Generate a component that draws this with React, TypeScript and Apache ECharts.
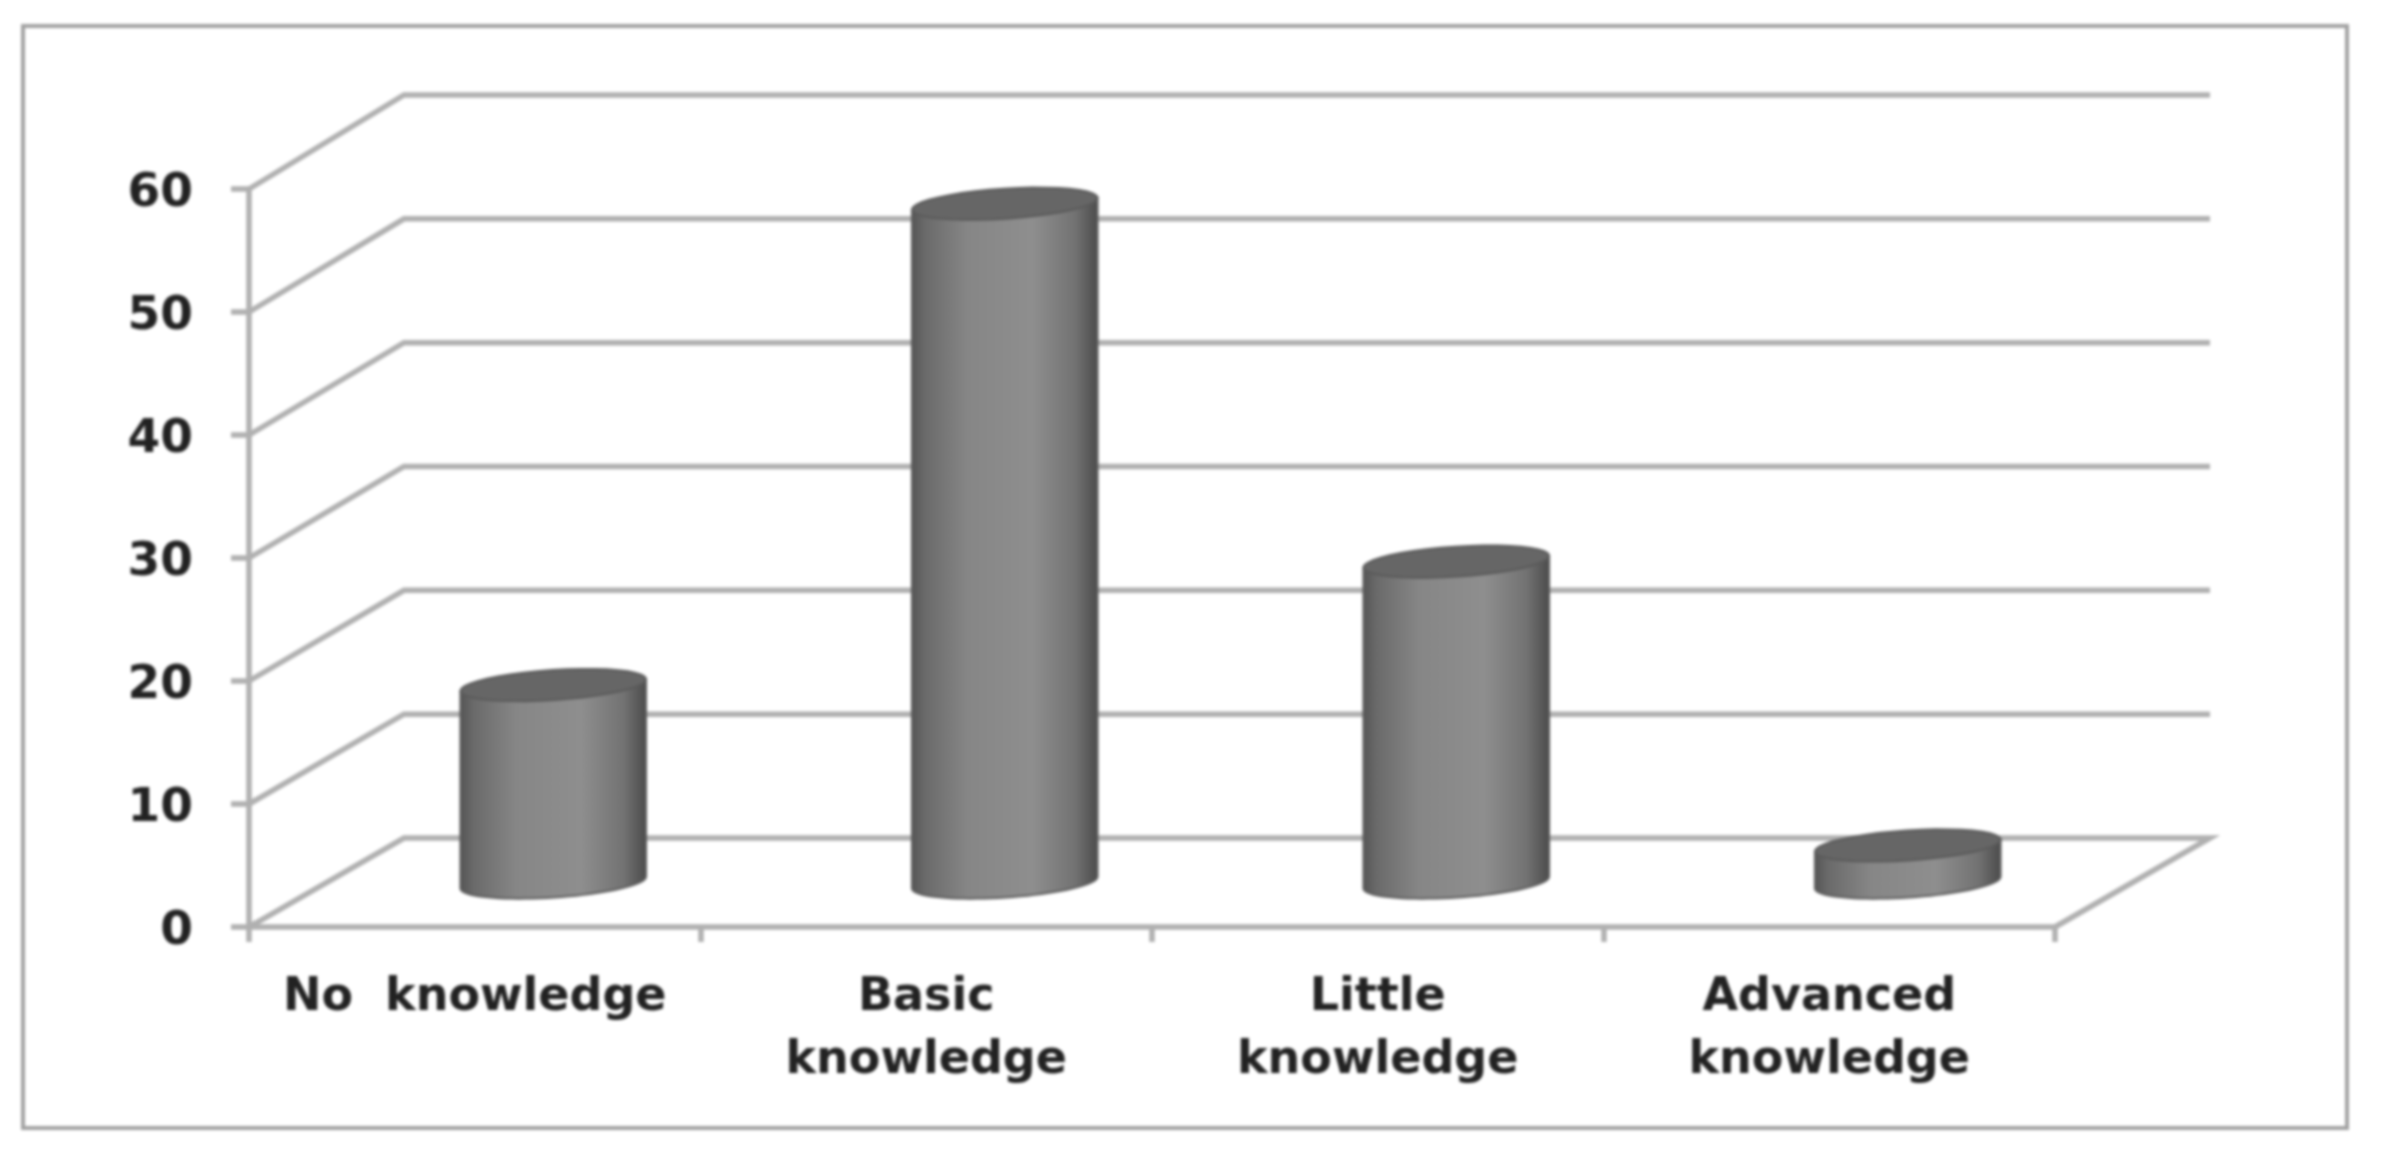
import React, { useEffect, useRef } from "react";
import * as echarts from "echarts";

const categories = ["No  knowledge", "Basic\nknowledge", "Little\nknowledge", "Advanced\nknowledge"];
const values = [16, 55, 26, 3];
const yTicks = [0, 10, 20, 30, 40, 50, 60];

const LINE = "#b0b0b0";
const TEXT = "#222222";
const FONT = "DejaVu Sans";
const LINE_W = 5.5;

// Perspective of the fake 3D box: depth vector from the front plane to the back wall
const DEPTH_X = 155;
const depthY = (v: number) => -89 - (v / 60) * 5;

function renderWall(params: any, api: any) {
  const v = api.value(1);
  const p = api.coord([0, v]);
  const band = api.size([1, 0])[0];
  const left = p[0] - band / 2;
  const right = left + band * categories.length;
  const y = p[1];
  const by = y + depthY(v);
  const pts: number[][] = [
    [left, y],
    [left + DEPTH_X, by],
    [right + DEPTH_X, by],
  ];
  if (v === 0) pts.push([right, y]);
  return {
    type: "polyline",
    shape: { points: pts },
    style: { stroke: LINE, lineWidth: LINE_W, fill: "none" },
  };
}

function ellipsePts(cx: number, cy: number, a: number, b: number, tilt: number, from: number, to: number) {
  const out: number[][] = [];
  const n = 40;
  for (let i = 0; i <= n; i++) {
    const t = from + ((to - from) * i) / n;
    out.push([
      cx + a * Math.cos(t) * Math.cos(tilt) - b * Math.sin(t) * Math.sin(tilt),
      cy + a * Math.cos(t) * Math.sin(tilt) + b * Math.sin(t) * Math.cos(tilt),
    ]);
  }
  return out;
}

function renderCylinder(params: any, api: any) {
  const idx = api.value(0);
  const v = api.value(1);
  const top = api.coord([idx, v]);
  const base = api.coord([idx, 0]);
  const cx = base[0] + DEPTH_X / 2 + 1;
  const topY = top[1] + depthY(v) / 2;
  const baseY = base[1] + depthY(0) / 2;
  const a = 93;
  const b = 15;
  const tilt = -0.065;
  const lower = ellipsePts(cx, baseY, a, b, tilt, 0, Math.PI);
  const topLeft = ellipsePts(cx, topY, a, b, tilt, Math.PI, Math.PI);
  const topRight = ellipsePts(cx, topY, a, b, tilt, 0, 0);
  const bodyPts = [topRight[0], ...lower, topLeft[0]];
  const bodyFill = new echarts.graphic.LinearGradient(0, 0, 1, 0, [
    { offset: 0, color: "#555555" },
    { offset: 0.07, color: "#6a6a6a" },
    { offset: 0.3, color: "#868686" },
    { offset: 0.65, color: "#8e8e8e" },
    { offset: 0.88, color: "#727272" },
    { offset: 0.97, color: "#555555" },
    { offset: 1, color: "#4c4c4c" },
  ]);
  return {
    type: "group",
    children: [
      {
        type: "polygon",
        shape: { points: bodyPts },
        style: { fill: bodyFill, stroke: "#5c5c5c", lineWidth: 2 },
      },
      {
        type: "polygon",
        shape: { points: ellipsePts(cx, topY, a, b, tilt, 0, Math.PI * 2) },
        style: { fill: "#666666", stroke: "#5a5a5a", lineWidth: 2 },
      },
    ],
  };
}

export default function App() {
  const ref = useRef<HTMLDivElement>(null);
  useEffect(() => {
    const chart = echarts.init(ref.current!, undefined, { renderer: "svg" });
    chart.setOption({
      animation: false,
      backgroundColor: "#ffffff",
      graphic: [
        {
          type: "rect",
          shape: { x: 23, y: 26, width: 2324, height: 1102 },
          style: { fill: "none", stroke: "#a2a2a2", lineWidth: 4 },
          silent: true,
        },
      ],
      grid: { left: 249, top: 189, width: 1806, height: 738, containLabel: false },
      xAxis: {
        type: "category",
        data: categories,
        boundaryGap: true,
        axisLine: { lineStyle: { color: LINE, width: LINE_W } },
        axisTick: { show: true, alignWithLabel: false, length: 15, lineStyle: { color: LINE, width: LINE_W } },
        axisLabel: {
          interval: 0,
          margin: 35,
          color: TEXT,
          fontFamily: FONT,
          fontWeight: "bold",
          fontSize: 46,
          lineHeight: 63,
        },
        splitLine: { show: false },
      },
      yAxis: {
        type: "value",
        min: 0,
        max: 60,
        interval: 10,
        axisLine: { show: true, lineStyle: { color: LINE, width: LINE_W } },
        axisTick: { show: true, length: 18, lineStyle: { color: LINE, width: LINE_W } },
        axisLabel: {
          margin: 56,
          color: TEXT,
          fontFamily: FONT,
          fontWeight: "bold",
          fontSize: 47,
        },
        splitLine: { show: false },
      },
      series: [
        {
          type: "custom",
          name: "walls",
          renderItem: renderWall,
          data: yTicks.map((v) => [0, v]),
          encode: { x: 0, y: 1 },
          silent: true,
          z: 1,
        },
        {
          type: "custom",
          name: "Knowledge",
          renderItem: renderCylinder,
          data: values.map((v, i) => [i, v]),
          encode: { x: 0, y: 1 },
          silent: true,
          z: 3,
        },
      ],
    });
    return () => chart.dispose();
  }, []);
  return (
    <div
      ref={ref}
      style={{ position: "absolute", left: 0, top: 0, width: 2383, height: 1161, filter: "blur(1.8px)" }}
    />
  );
}
